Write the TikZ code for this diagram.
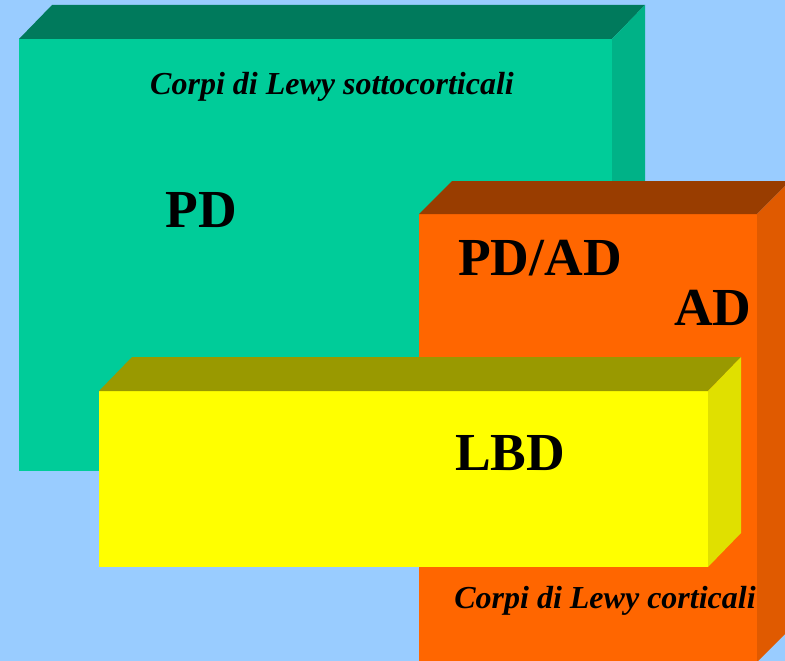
\documentclass[tikz,border=0pt]{standalone}
\usepackage{fontspec}
\setmainfont{Liberation Serif}
\definecolor{bg}{RGB}{153,204,255}
\definecolor{gfront}{RGB}{0,204,153}
\definecolor{gtop}{RGB}{0,122,92}
\definecolor{gside}{RGB}{0,178,135}
\definecolor{ofront}{RGB}{255,102,0}
\definecolor{otop}{RGB}{153,61,0}
\definecolor{oside}{RGB}{224,90,0}
\definecolor{yfront}{RGB}{255,255,0}
\definecolor{ytop}{RGB}{153,153,0}
\definecolor{yside}{RGB}{224,224,0}
\tikzset{
  big/.style={font=\fontsize{53.5}{53.5}\selectfont\bfseries, inner sep=0pt, anchor=base},
  small/.style={font=\fontsize{32}{32}\selectfont\bfseries\itshape, inner sep=0pt, anchor=base},
}
\begin{document}
\begin{tikzpicture}[x=1pt,y=-1pt]
\fill[bg] (0,0) rectangle (785,661);
\useasboundingbox (0,0) rectangle (785,661);
\begin{scope}
\clip (0,0) rectangle (785,661);
% green box
\fill[gfront] (19,39) rectangle (612,471);
\fill[gtop] (19,39) -- (52,5) -- (645,5) -- (612,39) -- cycle;
\fill[gside] (612,39) -- (645,5) -- (645,437) -- (612,471) -- cycle;
% orange box
\fill[ofront] (419,214) rectangle (757,670);
\fill[otop] (419,214) -- (452,181) -- (790,181) -- (757,214) -- cycle;
\fill[oside] (757,214) -- (790,181) -- (790,629) -- (757,662) -- cycle;
% yellow box
\fill[yfront] (99,391) rectangle (708,567);
\fill[ytop] (99,391) -- (132,357) -- (741,357) -- (708,391) -- cycle;
\fill[yside] (708,391) -- (741,357) -- (741,533) -- (708,567) -- cycle;
\end{scope}
\node[small] (t1) at (332,95) {Corpi di Lewy sottocorticali};
\node[big] (pd) at (201,227) {PD};
\node[big] (pdad) at (540,275) {PD/AD};
\node[big] (ad) at (713,325) {AD};
\node[big] (lbd) at (510,470) {LBD};
\node[small] (t2) at (605,608) {Corpi di Lewy corticali};
\end{tikzpicture}
\end{document}
